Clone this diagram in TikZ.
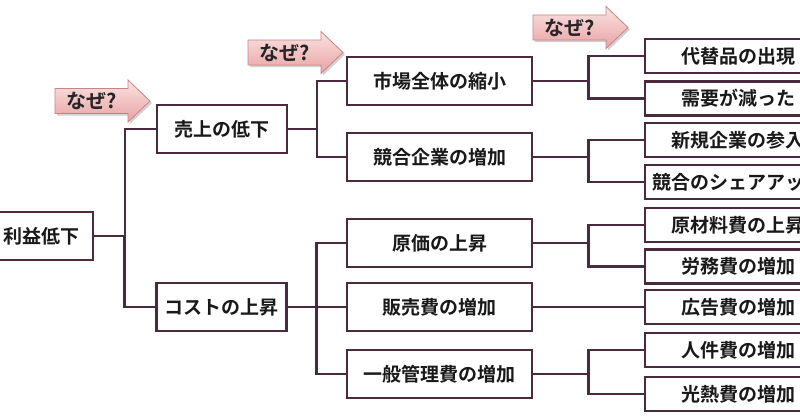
\documentclass[tikz,border=0pt]{standalone}
\usepackage{fontspec}
\newfontfamily\jpb{Noto Sans CJK JP}[UprightFont=* Bold]
\usetikzlibrary{calc}
\definecolor{linec}{HTML}{4A2A3E}
\definecolor{pinktop}{HTML}{FBE3E3}
\definecolor{pinkbot}{HTML}{E9A2A2}
\definecolor{pinkedge}{HTML}{C98585}
\tikzset{
  box/.style={draw=linec, line width=2.8pt, fill=white, inner sep=0pt, text=black!90,
    font=\jpb\fontsize{19}{22}\selectfont, minimum height=48pt},
  lvl1/.style={box, minimum width=130pt},
  mid/.style={box, minimum width=185pt},
  leaf/.style={box, minimum width=186pt, minimum height=34pt},
  conn/.style={draw=linec, line width=2.8pt},
  whyarrow/.style={draw=pinkedge, line width=0.8pt, top color=pinktop, bottom color=pinkbot},
  whytext/.style={font=\jpb\fontsize{20}{22}\selectfont, text=black!85, inner sep=0pt}
}
\newcommand\whyarrow[3]{%
  \fill[black!18] ($(#1)+(2,2)$) -- ++(73,0) -- ++(0,-8.5) -- ++(22,21) -- ++(-22,21) -- ++(0,-8.5) -- ++(-73,0) -- cycle;
  \path[whyarrow] (#1) -- ++(73,0) -- ++(0,-8.5) -- ++(22,21) -- ++(-22,21) -- ++(0,-8.5) -- ++(-73,0) -- cycle;
  \node[whytext] (#2) at ($(#1)+(37,12.5)$) {#3};
}
\begin{document}
\begin{tikzpicture}[x=1pt,y=-1pt]
\useasboundingbox (0,0) rectangle (800,418);
\clip (0,0) rectangle (800,418);
\fill[white] (0,0) rectangle (800,418);

% why arrows (top-left corner of body given)
\coordinate (wa1) at (55,88.5);
\coordinate (wa2) at (248,40);
\coordinate (wa3) at (533,15);
\whyarrow{wa1}{wt1}{なぜ?}
\whyarrow{wa2}{wt2}{なぜ?}
\whyarrow{wa3}{wt3}{なぜ?}

% nodes
\node[box, minimum width=103pt] (root) at (41.5,236) {利益低下};
\node[lvl1] (uri) at (222,129) {売上の低下};
\node[lvl1] (cost) at (221.5,307) {コストの上昇};

\node[mid] (m1) at (439.5,81) {市場全体の縮小};
\node[mid] (m2) at (439.5,157) {競合企業の増加};
\node[mid] (m3) at (439.5,243) {原価の上昇};
\node[mid] (m4) at (439.5,307) {販売費の増加};
\node[mid] (m5) at (439.5,374) {一般管理費の増加};

\node[leaf] (l1) at (738,56) {代替品の出現};
\node[leaf] (l2) at (738,98.5) {需要が減った};
\node[leaf] (l3) at (738,140) {新規企業の参入};
\node[leaf] (l4) at (738,182) {競合のシェアアップ};
\node[leaf] (l5) at (738,225) {原材料費の上昇};
\node[leaf] (l6) at (738,266.5) {労務費の増加};
\node[leaf] (l7) at (738,307) {広告費の増加};
\node[leaf] (l8) at (738,350) {人件費の増加};
\node[leaf] (l9) at (738,394) {光熱費の増加};

% connectors
\foreach \a/\b in {root/uri, root/cost, uri/m1, uri/m2, cost/m3, cost/m4, cost/m5,
  m1/l1, m1/l2, m2/l3, m2/l4, m3/l5, m3/l6, m4/l7, m5/l8, m5/l9}{
  \draw[conn] (\a.east) -| ($(\a.east)!0.5!(\b.west)$) |- (\b.west);
}
\end{tikzpicture}
\end{document}
